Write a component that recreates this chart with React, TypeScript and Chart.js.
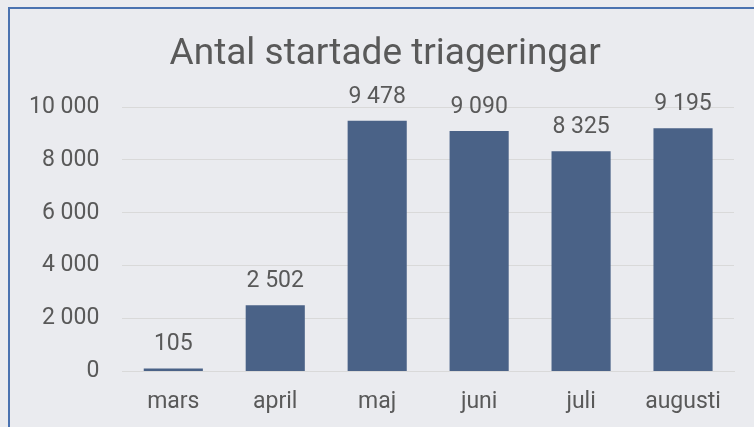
import React, { useEffect, useRef } from "react";
import { Chart, registerables } from "chart.js";

Chart.register(...registerables);

const categories = ["mars", "april", "maj", "juni", "juli", "augusti"];
const values = [105, 2502, 9478, 9090, 8325, 9195];
const titleText = "Antal startade triageringar";

const fmt = (v: number) => String(v).replace(/\B(?=(\d{3})+(?!\d))/g, " ");

const TEXT = "#595959";
const FONT = "Roboto";

const valueLabels = {
  id: "valueLabels",
  afterDatasetsDraw(chart: any) {
    const ctx = chart.ctx;
    const meta = chart.getDatasetMeta(0);
    ctx.save();
    ctx.fillStyle = TEXT;
    ctx.font = `23px ${FONT}`;
    ctx.textAlign = "center";
    ctx.textBaseline = "middle";
    meta.data.forEach((el: any, i: number) => {
      ctx.fillText(fmt(values[i]), el.x, el.y - 24);
    });
    ctx.restore();
  },
};

const chartTitle = {
  id: "chartTitle",
  afterDraw(chart: any) {
    const ctx = chart.ctx;
    const { left, right } = chart.chartArea;
    ctx.save();
    ctx.fillStyle = TEXT;
    ctx.font = `37px ${FONT}`;
    ctx.textAlign = "center";
    ctx.textBaseline = "middle";
    ctx.fillText(titleText, (left + right) / 2 - 43, 55);
    ctx.restore();
  },
};

export default function App() {
  const ref = useRef<HTMLCanvasElement>(null);
  useEffect(() => {
    if (!ref.current) return;
    const chart = new Chart(ref.current, {
      type: "bar",
      data: {
        labels: categories,
        datasets: [
          {
            data: values,
            backgroundColor: "#4a6287",
            barPercentage: 0.58,
            categoryPercentage: 1,
          },
        ],
      },
      options: {
        animation: false,
        responsive: false,
        layout: { padding: { left: 6, right: 20, top: 107, bottom: -6 } },
        plugins: {
          legend: { display: false },
          tooltip: { enabled: false },
          title: { display: false },
        },
        scales: {
          x: {
            grid: { display: false, drawTicks: false },
            border: { display: true, color: "#d9d9d9", width: 1 },
            ticks: { color: TEXT, font: { family: FONT, size: 23 }, padding: 17 },
          },
          y: {
            min: 0,
            max: 10000,
            grid: { color: "#d9d9d9", drawTicks: false },
            border: { display: false },
            ticks: {
              stepSize: 2000,
              color: TEXT,
              font: { family: FONT, size: 23 },
              padding: 23,
              callback: (v: any) => fmt(Number(v)),
            },
          },
        },
      },
      plugins: [valueLabels, chartTitle],
    });
    return () => chart.destroy();
  }, []);
  return (
    <div
      style={{
        position: "fixed",
        left: 0,
        top: 0,
        width: 754,
        height: 427,
        background: "#eaebef",
        overflow: "hidden",
      }}
    >
      <canvas ref={ref} width={754} height={427} style={{ display: "block" }} />
      <div
        style={{
          position: "absolute",
          left: 8,
          top: 7,
          width: 800,
          height: 500,
          borderLeft: "2px solid #4a72b0",
          borderTop: "2px solid #4a72b0",
          pointerEvents: "none",
        }}
      />
    </div>
  );
}
